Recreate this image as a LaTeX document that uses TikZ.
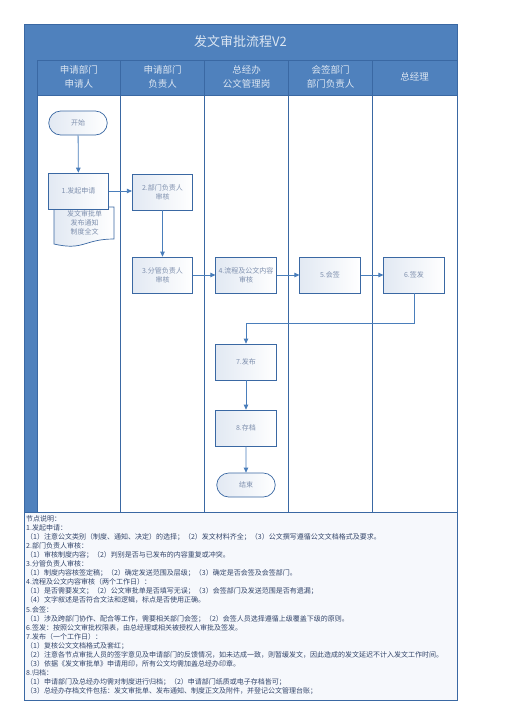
\documentclass[tikz,border=0pt]{standalone}
\usepackage{fontspec}
\setmainfont{Noto Sans CJK SC}
\usepackage{tikz}
\usetikzlibrary{arrows.meta,shapes.misc}
\definecolor{bandblue}{HTML}{4F81BD}
\definecolor{laneblue}{HTML}{3A68A3}
\definecolor{flowblue}{HTML}{4A7EBB}
\definecolor{headtext}{HTML}{DCE6F2}
\definecolor{nodetext}{HTML}{7F90AE}
\definecolor{notetext}{HTML}{33456A}
\definecolor{nodefill}{HTML}{E2E9F3}
\definecolor{notefill}{HTML}{F6F8FC}

\begin{document}
\begin{tikzpicture}[x=1pt,y=-1pt,
    lane/.style={draw=laneblue, line width=0.8pt},
    stepbox/.style={draw=laneblue, line width=0.7pt, left color=nodefill, right color=white,
        minimum width=60.5pt, minimum height=36pt, inner sep=1pt, align=center,
        font=\fontsize{7}{9}\selectfont, text=nodetext},
    termbox/.style={stepbox, rounded rectangle, minimum height=24pt},
    headtxt/.style={text=headtext, align=center, font=\fontsize{9.5}{13.3}\selectfont},
    flow/.style={draw=flowblue, line width=0.8pt, -{Triangle[length=5pt,width=4.5pt]}}]
    \useasboundingbox (0,0) rectangle (504,713);

    % Title and lane headers
    \fill[bandblue] (24,24) rectangle (457,95);
    \fill[bandblue] (24,95) rectangle (37,512);
    \fill[white] (37,95) rectangle (457,512);
    \fill[notefill] (24,512) rectangle (457,700);

    \draw[lane] (37,60) -- (457,60);
    \draw[lane] (37,95) -- (457,95);
    \draw[lane] (24,512) -- (457,512);
    \foreach \x in {37,120.7,204.7,288.7,372.3}
        \draw[lane] (\x,60) -- (\x,512);
    \draw[lane] (24,24) rectangle (457,700);

    \node[text=headtext, font=\fontsize{13}{15}\selectfont] (title) at (240.5,42) {发文审批流程V2};

    \node[headtxt] (h1) at (78.9,77) {申请部门\\申请人};
    \node[headtxt] (h2) at (162.7,77) {申请部门\\负责人};
    \node[headtxt] (h3) at (246.7,77) {总经办\\公文管理岗};
    \node[headtxt] (h4) at (330.5,77) {会签部门\\部门负责人};
    \node[headtxt] (h5) at (414.5,77) {总经理};

    % Document under step 1
    \draw[draw=laneblue, line width=0.7pt, left color=nodefill, right color=white]
        (54,207) -- (114,207) -- (114,239) .. controls (84,239) and (84,251) .. (54,244) -- cycle;
    \node[text=nodetext, align=center, font=\fontsize{7}{9}\selectfont] (docs) at (84.5,223) {发文审批单\\发布通知\\制度全文};

    % Steps
    \node[termbox] (start) at (78,123) {开始};
    \node[stepbox] (apply) at (78.5,191) {1.发起申请};
    \node[stepbox] (deptok) at (162.5,192) {2.部门负责人\\审核};
    \node[stepbox] (leadok) at (162.5,275) {3.分管负责人\\审核};
    \node[stepbox] (review) at (246,275) {4.流程及公文内容\\审核};
    \node[stepbox] (cosign) at (330,275) {5.会签};
    \node[stepbox] (issue) at (414,275) {6.签发};
    \node[stepbox] (publish) at (246,362) {7.发布};
    \node[stepbox] (archive) at (246,428) {8.存档};
    \node[termbox] (finish) at (246,485) {结束};

    % Connectors
    \draw[flow] (start) -- (apply);
    \draw[flow] (apply.east) -- (apply.east -| deptok.west);
    \draw[flow] (deptok) -- (leadok);
    \draw[flow] (leadok) -- (review);
    \draw[flow] (review) -- (cosign);
    \draw[flow] (cosign) -- (issue);
    \coordinate (turn) at (414,323);
    \draw[flow] (issue.south) -- (turn) -| (publish.north);
    \draw[flow] (publish) -- (archive);
    \draw[flow] (archive) -- (finish);

    % Notes
    \node[anchor=north west, align=left, inner sep=0pt, text=notetext,
        font=\fontsize{7}{9.1}\selectfont] (notes) at (26,515) {%
        节点说明：\\
        1.发起申请：\\
        （1）注意公文类别（制度、通知、决定）的选择；（2）发文材料齐全；（3）公文撰写遵循公文文档格式及要求。\\
        2.部门负责人审核：\\
        （1）审核制度内容；（2）判别是否与已发布的内容重复或冲突。\\
        3.分管负责人审核：\\
        （1）制度内容核签定稿；（2）确定发送范围及层级；（3）确定是否会签及会签部门。\\
        4.流程及公文内容审核（两个工作日）：\\
        （1）是否需要发文；（2）公文审批单是否填写无误；（3）会签部门及发送范围是否有遗漏；\\
        （4）文字叙述是否符合文法和逻辑，标点是否使用正确。\\
        5.会签：\\
        （1）涉及跨部门协作、配合等工作，需要相关部门会签；（2）会签人员选择遵循上级覆盖下级的原则。\\
        6.签发：按照公文审批权限表，由总经理或相关被授权人审批及签发。\\
        7.发布（一个工作日）：\\
        （1）复核公文文档格式及套红；\\
        （2）注意各节点审批人员的签字意见及申请部门的反馈情况，如未达成一致，则暂缓发文，因此造成的发文延迟不计入发文工作时间。\\
        （3）依据《发文审批单》申请用印，所有公文均需加盖总经办印章。\\
        8.归档：\\
        （1）申请部门及总经办均需对制度进行归档；（2）申请部门纸质或电子存档皆可；\\
        （3）总经办存档文件包括：发文审批单、发布通知、制度正文及附件，并登记公文管理台账；};
\end{tikzpicture}
\end{document}
